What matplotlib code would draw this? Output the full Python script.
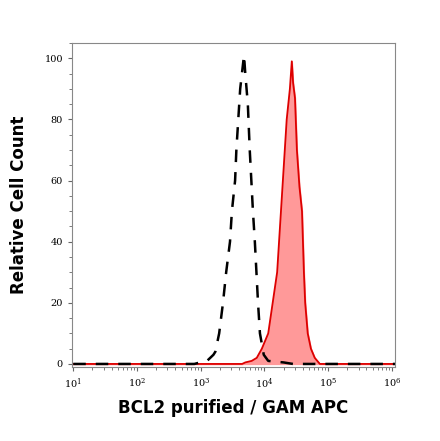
import matplotlib
matplotlib.use("Agg")
import matplotlib.pyplot as plt
import numpy as np
from matplotlib.ticker import MultipleLocator, LogLocator, FixedLocator

ctrl_logx = [1.0, 2.9, 2.99, 3.1, 3.2, 3.23, 3.29, 3.35, 3.40, 3.46, 3.49, 3.54, 3.56, 3.59, 3.62, 3.68, 3.70, 3.74, 3.77, 3.82, 3.85, 3.90, 3.93, 3.99, 4.06, 4.15, 4.3, 4.45, 6.05]
ctrl_y = [0, 0, 0.5, 1, 3, 4, 10, 20, 30, 40, 50, 60, 70, 80, 90, 101, 95, 85, 70, 50, 40, 20, 10, 3, 1, 0.8, 0.5, 0, 0]
bcl_logx = [0.98, 3.65, 3.70, 3.80, 3.88, 3.96, 4.06, 4.13, 4.20, 4.23, 4.26, 4.29, 4.32, 4.35, 4.40, 4.43, 4.45, 4.48, 4.51, 4.55, 4.59, 4.62, 4.64, 4.68, 4.73, 4.79, 4.87, 6.05]
bcl_y = [0, 0, 0.5, 1, 2, 5, 10, 20, 30, 40, 50, 60, 70, 80, 90, 99, 92, 87, 70, 58, 50, 30, 20, 10, 5, 2, 0, 0]

fig = plt.figure(figsize=(4.4, 4.41), dpi=100)
ax = fig.add_axes([72/440, 1-367/441, 323/440, 324/441])
bx = 10**np.array(bcl_logx)
cx = 10**np.array(ctrl_logx)
ax.fill_between(bx, bcl_y, color="#ff9999")
ax.plot(bx, bcl_y, color="#dd0000", lw=1.3)
ax.plot(cx, ctrl_y, color="black", lw=1.8, ls=(0, (5, 4)))
ax.set_xscale("log")
ax.set_xlim(10**0.98, 10**6.05)
ax.set_ylim(-1, 105)
ax.set_yticks([0, 20, 40, 60, 80, 100])
ax.yaxis.set_minor_locator(MultipleLocator(5))
ax.xaxis.set_major_locator(FixedLocator([10.0**k for k in range(1, 7)]))
ax.xaxis.set_minor_locator(LogLocator(base=10, subs=np.arange(2, 10), numticks=20))
for lab in ax.get_xticklabels() + ax.get_yticklabels():
    lab.set_fontfamily("DejaVu Serif")
    lab.set_fontsize(7)
ax.tick_params(axis="both", which="major", length=3, color="#666666")
ax.tick_params(axis="both", which="minor", length=2, color="#666666")
for s in ax.spines.values():
    s.set_color("#888888")
ax.set_ylabel("Relative Cell Count", fontsize=12, fontweight="bold", labelpad=12)
ax.set_xlabel("BCL2 purified / GAM APC", fontsize=12, fontweight="bold", labelpad=6)
fig.savefig("out.png", dpi=100)
